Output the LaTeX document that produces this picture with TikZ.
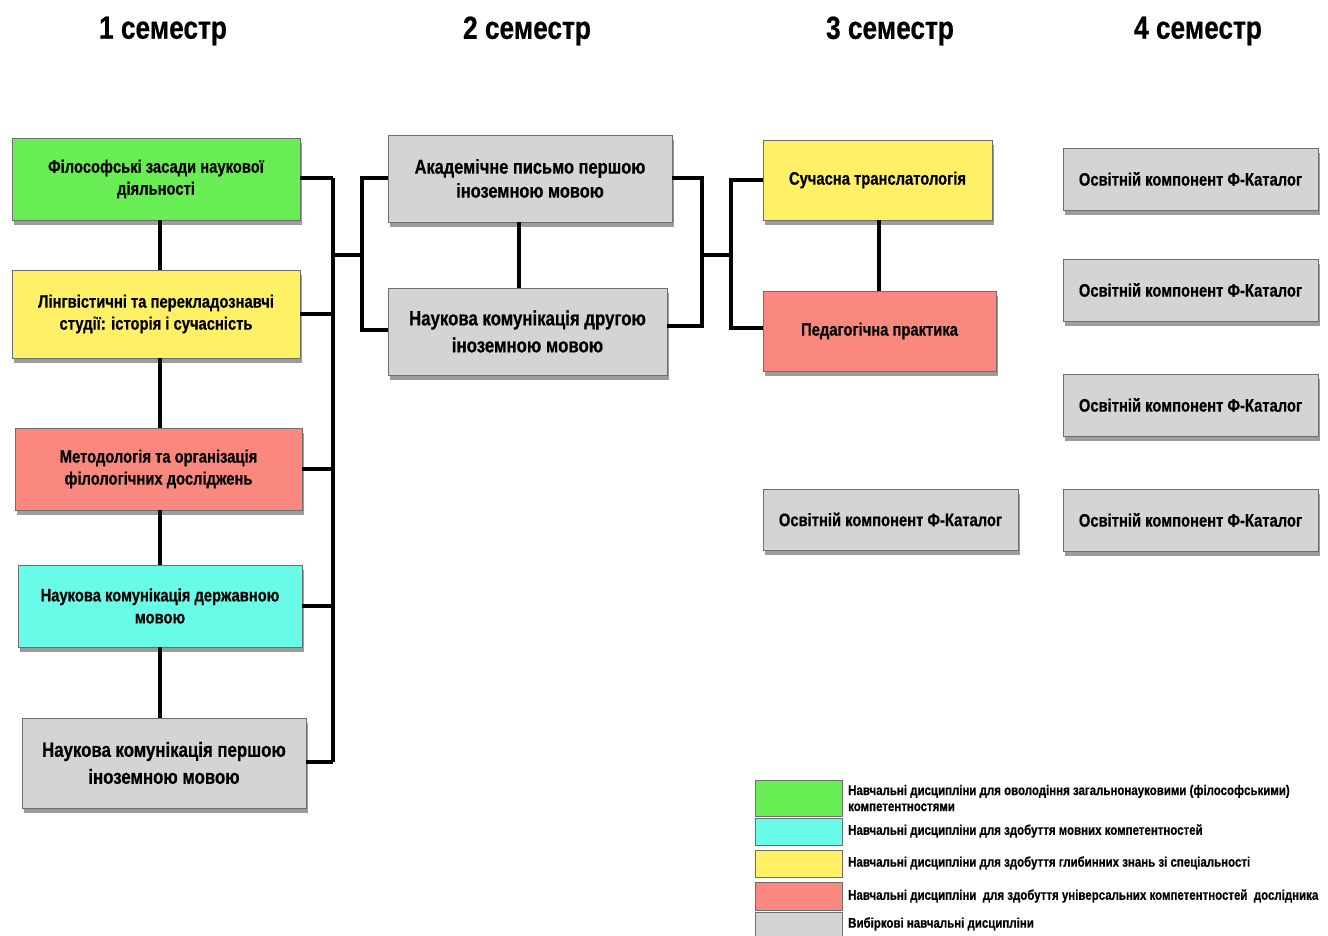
\documentclass[tikz,border=0pt]{standalone}
\usepackage{fontspec}
\setmainfont{Liberation Sans}[FakeStretch=0.82, BoldFeatures={FakeBold=0.6}]
\usetikzlibrary{shadows}
\definecolor{cgreen}{RGB}{104,238,84}
\definecolor{cyellow}{RGB}{255,240,102}
\definecolor{cred}{RGB}{250,136,126}
\definecolor{ccyan}{RGB}{104,252,232}
\definecolor{cgray}{RGB}{212,212,212}
\definecolor{cborder}{RGB}{110,110,110}
\tikzset{
  box/.style={draw=cborder, line width=0.9pt, rectangle, align=center, inner sep=2pt,
    font=\fontsize{18}{22}\selectfont\bfseries,
    drop shadow={shadow xshift=2pt, shadow yshift=-5pt, opacity=0.55, fill=black!70}},
  bigtxt/.style={font=\fontsize{20.5}{27}\selectfont\bfseries},
  midtxt/.style={font=\fontsize{20}{24}\selectfont\bfseries},
  head/.style={font=\fontsize{32}{36}\selectfont\bfseries},
  link/.style={line width=3.3pt, black},
  swatch/.style={draw=cborder, line width=0.9pt, minimum width=87pt},
  legtxt/.style={anchor=west, align=left, inner sep=0pt, font=\fontsize{14}{16}\selectfont\bfseries}
}
\begin{document}
\begin{tikzpicture}[x=1pt,y=-1pt]
\useasboundingbox (0,0) rectangle (1328,936);
\fill[white] (0,0) rectangle (1328,936);
% headers
\node[head] (h1) at (163,31) {1 семестр};
\node[head] (h2) at (527,31) {2 семестр};
\node[head] (h3) at (890,31) {3 семестр};
\node[head] (h4) at (1198,31) {4 семестр};
% column 1
\node[box, fill=cgreen, minimum width=288pt, minimum height=82pt] (n1) at (156,179) {Філософські засади наукової\\діяльності};
\node[box, fill=cyellow, minimum width=288pt, minimum height=88pt] (n2) at (156,314) {Лінгвістичні та перекладознавчі\\студії: історія і сучасність};
\node[box, fill=cred, minimum width=287pt, minimum height=82pt] (n3) at (158.5,469) {Методологія та організація\\філологічних досліджень};
\node[box, fill=ccyan, minimum width=284pt, minimum height=82pt] (n4) at (160,606) {Наукова комунікація державною\\мовою};
\node[box, bigtxt, fill=cgray, minimum width=284pt, minimum height=90pt] (n5) at (164,763) {Наукова комунікація першою\\іноземною мовою};
% column 2
\node[box, midtxt, fill=cgray, minimum width=284pt, minimum height=87pt] (m1) at (530,178.5) {Академічне письмо першою\\іноземною мовою};
\node[box, bigtxt, fill=cgray, minimum width=279pt, minimum height=87pt] (m2) at (527.5,331.5) {Наукова комунікація другою\\іноземною мовою};
% column 3
\node[box, fill=cyellow, minimum width=229pt, minimum height=80pt] (t1) at (877.5,180) {Сучасна транслатологія};
\node[box, fill=cred, minimum width=233pt, minimum height=80pt] (t2) at (879.5,331) {Педагогічна практика};
\node[box, fill=cgray, minimum width=255pt, minimum height=61pt] (t3) at (890.5,519.5) {Освітній компонент Ф-Каталог};
% column 4
\node[box, fill=cgray, minimum width=255pt, minimum height=62pt] (f1) at (1190.5,179) {Освітній компонент Ф-Каталог};
\node[box, fill=cgray, minimum width=255pt, minimum height=62pt] (f2) at (1190.5,290) {Освітній компонент Ф-Каталог};
\node[box, fill=cgray, minimum width=255pt, minimum height=62pt] (f3) at (1190.5,405) {Освітній компонент Ф-Каталог};
\node[box, fill=cgray, minimum width=255pt, minimum height=62pt] (f4) at (1190.5,520) {Освітній компонент Ф-Каталог};
% junction coordinates
\coordinate (busA) at (333,178);
\coordinate (busB) at (333,762);
\coordinate (busAmid) at (333,255);
\coordinate (busC) at (362,255);
\coordinate (busD) at (702,255);
\coordinate (busE) at (731,255);
% column 1 vertical links
\draw[link] (n1.south -| 160,0) -- (n2.north -| 160,0);
\draw[link] (n2.south -| 160,0) -- (n3.north -| 160,0);
\draw[link] (n3.south -| 160,0) -- (n4.north -| 160,0);
\draw[link] (n4.south -| 160,0) -- (n5.north -| 160,0);
% column 1 bus
\draw[link] (busA) -- (busB);
\draw[link] (n1.east |- busA) -- (busA);
\draw[link] (n2.east) -- (n2.east -| busA);
\draw[link] (n3.east) -- (n3.east -| busA);
\draw[link] (n4.east) -- (n4.east -| busA);
\draw[link] (n5.east |- busB) -- (busB);
% bus to column 2
\draw[link] (busAmid) -- (busC);
\draw[link] (m1.west |- 0,178) -| (busC) |- (m2.west |- 0,330);
% column 2 vertical
\draw[link] (m1.south -| 519,0) -- (m2.north -| 519,0);
% column 2 to column 3
\draw[link] (m1.east |- 0,178) -| (busD) |- (m2.east |- 0,326);
\draw[link] (busD) -- (busE);
\draw[link] (t1.west) -| (busE) |- (t2.west |- 0,328);
% column 3 vertical
\draw[link] (t1.south -| 879,0) -- (t2.north -| 879,0);
% legend
\node[swatch, fill=cgreen, minimum height=36pt, anchor=north west] (s1) at (755,780) {};
\node[swatch, fill=ccyan, minimum height=27pt, anchor=north west] (s2) at (755,818) {};
\node[swatch, fill=cyellow, minimum height=27pt, anchor=north west] (s3) at (755,850) {};
\node[swatch, fill=cred, minimum height=28pt, anchor=north west] (s4) at (755,882) {};
\node[swatch, fill=cgray, minimum height=28pt, anchor=north west] (s5) at (755,912) {};
\node[legtxt] (l1) at (848,798) {Навчальні дисципліни для оволодіння загальнонауковими (філософськими)\\компетентностями};
\node[legtxt] (l2) at (848,831) {Навчальні дисципліни для здобуття мовних компетентностей};
\node[legtxt] (l3) at (848,863) {Навчальні дисципліни для здобуття глибинних знань зі спеціальності};
\node[legtxt] (l4) at (848,896) {Навчальні дисципліни\ \ для здобуття універсальних компетентностей\ \ дослідника};
\node[legtxt] (l5) at (848,924) {Вибіркові навчальні дисципліни};
\end{tikzpicture}
\end{document}
